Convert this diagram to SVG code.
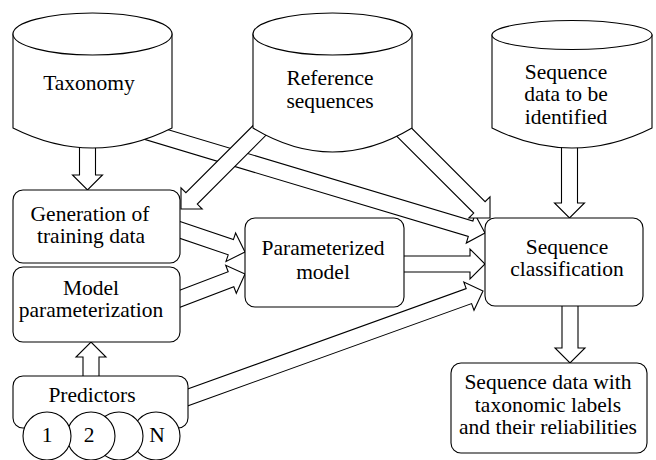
<svg xmlns="http://www.w3.org/2000/svg" width="656" height="460" viewBox="0 0 656 460">
<style>
.s{fill:#fff;stroke:#000;stroke-width:1.1}
.t{font-family:"Liberation Serif","Times New Roman",serif;font-size:21.5px;fill:#000;text-anchor:middle}
</style>
<rect width="656" height="460" fill="#fff"/>
<g id="connectors">
<polygon class="s" points="142.4,122.0 472.9,221.0 474.9,214.3 485,233 466.3,243.1 468.3,236.4 137.8,137.4"/>
<polygon class="s" points="79.5,140 79.5,175 72.5,175 87.5,190 102.5,175 95.5,175 95.5,140"/>
<polygon class="s" points="256.6,122.0 185.9,192.7 181.0,187.8 181,209 202.2,209.0 197.3,204.1 267.9,133.3"/>
<polygon class="s" points="392.4,131.8 473.7,213.1 468.8,218.0 490,218 490.0,196.8 485.1,201.7 403.8,120.4"/>
<polygon class="s" points="561.5,140 561.5,203 554.5,203 569.5,218 584.5,203 577.5,203 577.5,140"/>
<polygon class="s" points="172.6,218.9 233.4,239.6 235.6,233.0 245,252 226.0,261.4 228.2,254.8 167.4,234.1"/>
<polygon class="s" points="167.2,295.0 228.2,271.8 225.7,265.3 245,274 236.3,293.3 233.8,286.8 172.8,310.0"/>
<polygon class="s" points="395,256 470,256 470,249 485,264 470,279 470,272 395,272"/>
<polygon class="s" points="172.3,394.5 466.2,288.6 463.8,282.0 483,291 474.0,310.2 471.6,303.6 177.7,409.5"/>
<polygon class="s" points="83,385 83,357 76,357 91,342 106,357 99,357 99,385"/>
<polygon class="s" points="562,300 562,348 555,348 570,363 585,348 578,348 578,300"/>
</g>
<g id="taxonomy">
<path class="s" d="M13,34 V128 Q92.5,168 172,128 V34 Z"/>
<ellipse class="s" cx="92.5" cy="34" rx="79.5" ry="21"/>
<text class="t" x="89" y="90">Taxonomy</text>
</g>
<g id="reference">
<path class="s" d="M253,34 V128 Q332.5,176 412,128 V34 Z"/>
<ellipse class="s" cx="332.5" cy="34" rx="79.5" ry="21"/>
<text class="t" x="330" y="85">Reference</text>
<text class="t" x="330" y="108">sequences</text>
</g>
<g id="seqdata">
<path class="s" d="M492,35 V128 Q572,168 652,128 V35 Z"/>
<ellipse class="s" cx="572" cy="35" rx="80" ry="14.5"/>
<text class="t" x="566" y="79">Sequence</text>
<text class="t" x="566" y="101">data to be</text>
<text class="t" x="566" y="124">identified</text>
</g>
<g id="generation">
<rect class="s" x="13" y="190" width="167" height="73" rx="10"/>
<text class="t" x="90" y="221">Generation of</text>
<text class="t" x="91" y="243">training data</text>
</g>
<g id="modelparam">
<rect class="s" x="13" y="267" width="167" height="75" rx="10"/>
<text class="t" x="91" y="295">Model</text>
<text class="t" x="91" y="317">parameterization</text>
</g>
<g id="parammodel">
<rect class="s" x="245" y="218" width="159" height="89" rx="10"/>
<text class="t" x="323" y="255">Parameterized</text>
<text class="t" x="323" y="279">model</text>
</g>
<g id="seqclass">
<rect class="s" x="485" y="218" width="158" height="88" rx="10"/>
<text class="t" x="567" y="254">Sequence</text>
<text class="t" x="567" y="276">classification</text>
</g>
<g id="output">
<rect class="s" x="451" y="363" width="196" height="90" rx="10"/>
<text class="t" x="548" y="389">Sequence data with</text>
<text class="t" x="548" y="412">taxonomic labels</text>
<text class="t" x="548" y="434">and their reliabilities</text>
</g>
<g id="predictors">
<rect class="s" x="13" y="376" width="175" height="52" rx="10"/>
<text class="t" x="92" y="402">Predictors</text>
<circle class="s" cx="156" cy="436" r="24"/>
<circle class="s" cx="119" cy="436" r="24"/>
<circle class="s" cx="91" cy="436" r="24"/>
<circle class="s" cx="47" cy="436" r="24"/>
<text class="t" x="47" y="442">1</text>
<text class="t" x="89" y="442">2</text>
<text class="t" x="157" y="442">N</text>
</g>
</svg>
